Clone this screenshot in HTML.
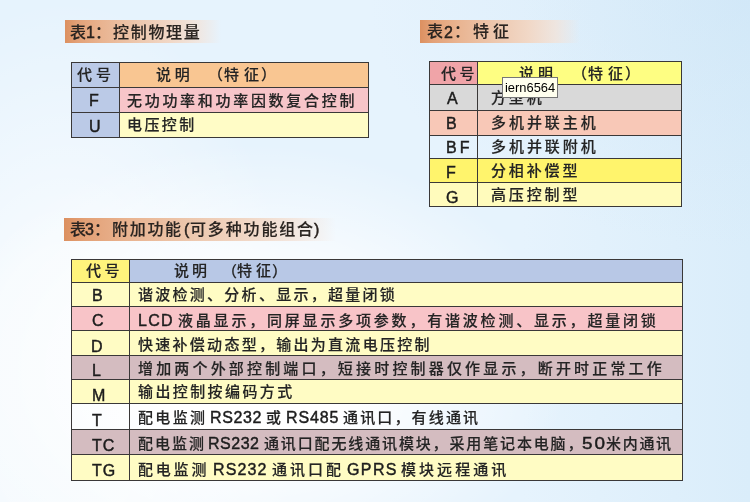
<!DOCTYPE html>
<html lang="zh-CN"><head><meta charset="utf-8"><title>表1 表2 表3</title>
<style>
html,body{margin:0;padding:0}
body{width:750px;height:502px;overflow:hidden;position:relative;font-family:"Liberation Sans","Noto Sans CJK SC",sans-serif;color:#222;background:#e6f3fd}
#bg{position:absolute;left:0;top:0;width:750px;height:502px;
background:
 radial-gradient(ellipse 381px 247px at 750px 0px, rgba(200,226,245,.44) 0%, rgba(200,226,245,0) 100%),
 radial-gradient(ellipse 316px 226px at 252px 370px, rgba(255,255,255,1) 0%, rgba(255,255,255,1) 31%, rgba(255,255,255,0) 100%),
 radial-gradient(ellipse 233px 391px at 67px 390px, rgba(255,255,255,.63) 0%, rgba(255,255,255,.63) 37%, rgba(255,255,255,0) 100%),
 linear-gradient(to right,#e6f3fd 0,#e6f3fd 523px,#daedfa 750px);}
.hd{position:absolute;height:23px;background:linear-gradient(to right,#dc9060 0%,#e3a177 8%,#e9b491 24%,#edc7ad 46%,#f1d8c7 68%,rgba(243,226,215,.75) 85%,rgba(243,230,222,0) 100%)}
.ht{position:absolute;font-weight:500;font-size:16px;letter-spacing:1.7px;line-height:22px;height:22px;white-space:nowrap;color:#2a2420}
.c{position:absolute}
.g{position:absolute;left:0;top:0;font-size:1px;line-height:1px}
.t,.ht,#tip{will-change:transform}
.t,.ht{-webkit-text-stroke:0.15px #242424}
.ln{position:absolute;background:#3a3838}
.t{position:absolute;font-weight:500;font-size:15.0px;white-space:nowrap;line-height:20px;height:20px;color:#242424}
.t.k{font-size:16px;color:#1c1c1c;-webkit-text-stroke:0.45px #1c1c1c}
.t.l{font-size:16.0px;transform:scaleX(1.0);transform-origin:0 50%;color:#1c1c1c;-webkit-text-stroke:0.45px #1c1c1c}
#tip{position:absolute;left:502px;top:77px;width:56px;height:21px;box-sizing:border-box;border:1px solid #767676;background:#ffffee;font-family:"Liberation Sans",sans-serif;font-size:12.9px;line-height:20px;color:#000;padding-left:2px;white-space:nowrap}
</style></head><body><div id="bg"></div>

<div class="hd" style="left:65px;top:20px;width:156px"></div>
<div class="hd" style="left:420px;top:20px;width:160px"></div>
<div class="hd" style="left:64px;top:218px;width:272px"></div>
<div class="g"><span class="ht" style="left:69.60px;top:21.50px;letter-spacing:1.70px">表</span><span class="ht" style="left:85.50px;top:22.00px;letter-spacing:0;-webkit-text-stroke:0.45px #241c18">1</span><span class="ht" style="left:95.10px;top:21.50px;letter-spacing:1.70px">：</span><span class="ht" style="left:112.50px;top:21.50px;letter-spacing:1.70px">控制物理量</span></div>
<div class="g"><span class="ht" style="left:427.40px;top:21.30px;letter-spacing:1.70px">表</span><span class="ht" style="left:443.50px;top:21.80px;letter-spacing:0;-webkit-text-stroke:0.45px #241c18">2</span><span class="ht" style="left:454.00px;top:21.30px;letter-spacing:1.70px">：</span><span class="ht" style="left:472.90px;top:21.30px;letter-spacing:4.00px">特征</span></div>
<div class="g"><span class="ht" style="left:69.80px;top:218.70px;letter-spacing:1.70px">表</span><span class="ht" style="left:85.10px;top:219.20px;letter-spacing:0;-webkit-text-stroke:0.45px #241c18">3</span><span class="ht" style="left:94.00px;top:218.70px;letter-spacing:1.70px">：</span><span class="ht" style="left:112.40px;top:218.70px;letter-spacing:1.70px">附加功能</span><span class="ht" style="left:184.00px;top:219.20px;letter-spacing:0;-webkit-text-stroke:0.45px #241c18">(</span><span class="ht" style="left:190.40px;top:218.70px;letter-spacing:1.85px">可多种功能组合</span><span class="ht" style="left:314.40px;top:219.20px;letter-spacing:0;-webkit-text-stroke:0.45px #241c18">)</span></div>
<div class="c" style="left:71px;top:62px;width:48px;height:76px;background:#bbcae7"></div>
<div class="c" style="left:119px;top:62px;width:249px;height:25px;background:#f9c692"></div>
<div class="c" style="left:119px;top:87px;width:249px;height:25px;background:#f7c5c9"></div>
<div class="c" style="left:119px;top:112px;width:249px;height:26px;background:#fffcc6"></div>
<div class="ln" style="left:71px;top:62px;width:298px;height:1px"></div>
<div class="ln" style="left:71px;top:87px;width:298px;height:1px"></div>
<div class="ln" style="left:71px;top:112px;width:298px;height:1px"></div>
<div class="ln" style="left:71px;top:137px;width:298px;height:1px"></div>
<div class="ln" style="left:71px;top:62px;width:1px;height:76px"></div>
<div class="ln" style="left:119px;top:62px;width:1px;height:76px"></div>
<div class="ln" style="left:368px;top:62px;width:1px;height:76px"></div>
<div class="g"><span class="t" style="left:77.40px;top:64.50px;letter-spacing:4.00px">代号</span></div>
<div class="g"><span class="t" style="left:156.40px;top:64.50px;letter-spacing:3.70px">说明</span> <span class="t" style="left:208.40px;top:65.00px">（</span><span class="t" style="left:224.40px;top:64.50px;letter-spacing:5.00px">特征</span><span class="t" style="left:260.80px;top:65.00px">）</span></div>
<div class="g"><span class="t k" style="left:88.70px;top:91.10px;letter-spacing:0.00px">F</span></div>
<div class="g"><span class="t" style="left:127.00px;top:91.30px;letter-spacing:2.70px">无功功率和功率因数复合控制</span></div>
<div class="g"><span class="t k" style="left:88.70px;top:116.60px;letter-spacing:0.00px">U</span></div>
<div class="g"><span class="t" style="left:127.00px;top:115.00px;letter-spacing:2.40px">电压控制</span></div>
<div class="c" style="left:429px;top:61px;width:48px;height:24px;background:#f0a4a8"></div>
<div class="c" style="left:477px;top:61px;width:204px;height:24px;background:#fefe82"></div>
<div class="c" style="left:429px;top:84px;width:48px;height:27px;background:#d9d9d9"></div>
<div class="c" style="left:477px;top:84px;width:204px;height:27px;background:#d9d9d9"></div>
<div class="c" style="left:429px;top:110px;width:48px;height:26px;background:#f8c8b7"></div>
<div class="c" style="left:477px;top:110px;width:204px;height:26px;background:#f8c8b7"></div>
<div class="c" style="left:429px;top:158px;width:48px;height:25px;background:#fff46c"></div>
<div class="c" style="left:477px;top:158px;width:204px;height:25px;background:#fff46c"></div>
<div class="c" style="left:429px;top:182px;width:48px;height:25px;background:#fffbbc"></div>
<div class="c" style="left:477px;top:182px;width:204px;height:25px;background:#fffbbc"></div>
<div class="ln" style="left:429px;top:61px;width:253px;height:1px"></div>
<div class="ln" style="left:429px;top:84px;width:253px;height:1px"></div>
<div class="ln" style="left:429px;top:110px;width:253px;height:1px"></div>
<div class="ln" style="left:429px;top:135px;width:253px;height:1px"></div>
<div class="ln" style="left:429px;top:158px;width:253px;height:1px"></div>
<div class="ln" style="left:429px;top:182px;width:253px;height:1px"></div>
<div class="ln" style="left:429px;top:206px;width:253px;height:1px"></div>
<div class="ln" style="left:429px;top:61px;width:1px;height:146px"></div>
<div class="ln" style="left:477px;top:61px;width:1px;height:146px"></div>
<div class="ln" style="left:681px;top:61px;width:1px;height:146px"></div>
<div class="g"><span class="t" style="left:441.00px;top:63.50px;letter-spacing:3.40px">代号</span></div>
<div class="g"><span class="t" style="left:519.40px;top:63.50px;letter-spacing:4.00px">说明</span> <span class="t" style="left:572.40px;top:64.00px">（</span><span class="t" style="left:588.40px;top:63.50px;letter-spacing:5.00px">特征</span><span class="t" style="left:624.80px;top:64.00px">）</span></div>
<div class="g"><span class="t k" style="left:446.50px;top:88.95px;letter-spacing:0.00px">A</span></div>
<div class="g"><span class="t" style="left:491.40px;top:87.65px;letter-spacing:2.85px">方型机</span></div>
<div class="g"><span class="t k" style="left:446.30px;top:113.85px;letter-spacing:0.00px">B</span></div>
<div class="g"><span class="t" style="left:491.40px;top:112.55px;letter-spacing:2.95px">多机并联主机</span></div>
<div class="g"><span class="t k" style="left:445.90px;top:138.20px;letter-spacing:3.05px">BF</span></div>
<div class="g"><span class="t" style="left:491.40px;top:136.90px;letter-spacing:2.95px">多机并联附机</span></div>
<div class="g"><span class="t k" style="left:445.80px;top:162.70px;letter-spacing:0.00px">F</span></div>
<div class="g"><span class="t" style="left:491.40px;top:161.40px;letter-spacing:2.85px">分相补偿型</span></div>
<div class="g"><span class="t k" style="left:446.20px;top:188.00px;letter-spacing:0.00px">G</span></div>
<div class="g"><span class="t" style="left:491.40px;top:185.20px;letter-spacing:2.85px">高压控制型</span></div>
<div class="c" style="left:71px;top:259px;width:58px;height:24px;background:#fff47c"></div>
<div class="c" style="left:129px;top:259px;width:553px;height:24px;background:#b8c8e6"></div>
<div class="c" style="left:71px;top:282px;width:58px;height:25px;background:#fffcc4"></div>
<div class="c" style="left:129px;top:282px;width:553px;height:25px;background:#fffcc4"></div>
<div class="c" style="left:71px;top:306px;width:58px;height:25px;background:#f8c4c8"></div>
<div class="c" style="left:129px;top:306px;width:553px;height:25px;background:#f8c4c8"></div>
<div class="c" style="left:71px;top:330px;width:58px;height:26px;background:#fffcc4"></div>
<div class="c" style="left:129px;top:330px;width:553px;height:26px;background:#fffcc4"></div>
<div class="c" style="left:71px;top:355px;width:58px;height:25px;background:#d4bcc0"></div>
<div class="c" style="left:129px;top:355px;width:553px;height:25px;background:#d4bcc0"></div>
<div class="c" style="left:71px;top:379px;width:58px;height:25px;background:#fffcc4"></div>
<div class="c" style="left:129px;top:379px;width:553px;height:25px;background:#fffcc4"></div>
<div class="c" style="left:71px;top:429px;width:58px;height:26px;background:#d4bcc0"></div>
<div class="c" style="left:129px;top:429px;width:553px;height:26px;background:#d4bcc0"></div>
<div class="c" style="left:71px;top:454px;width:58px;height:27px;background:#fffcc4"></div>
<div class="c" style="left:129px;top:454px;width:553px;height:27px;background:#fffcc4"></div>
<div class="ln" style="left:71px;top:259px;width:612px;height:1px"></div>
<div class="ln" style="left:71px;top:282px;width:612px;height:1px"></div>
<div class="ln" style="left:71px;top:306px;width:612px;height:1px"></div>
<div class="ln" style="left:71px;top:330px;width:612px;height:1px"></div>
<div class="ln" style="left:71px;top:355px;width:612px;height:1px"></div>
<div class="ln" style="left:71px;top:379px;width:612px;height:1px"></div>
<div class="ln" style="left:71px;top:403px;width:612px;height:1px"></div>
<div class="ln" style="left:71px;top:429px;width:612px;height:1px"></div>
<div class="ln" style="left:71px;top:454px;width:612px;height:1px"></div>
<div class="ln" style="left:71px;top:480px;width:612px;height:1px"></div>
<div class="ln" style="left:71px;top:259px;width:1px;height:222px"></div>
<div class="ln" style="left:129px;top:259px;width:1px;height:222px"></div>
<div class="ln" style="left:682px;top:259px;width:1px;height:222px"></div>
<div class="g"><span class="t" style="left:86.40px;top:261.00px;letter-spacing:3.40px">代号</span></div>
<div class="g"><span class="t" style="left:174.40px;top:261.00px;letter-spacing:3.00px">说明</span> <span class="t" style="left:222.40px;top:261.50px">（</span><span class="t" style="left:237.40px;top:261.00px;letter-spacing:4.00px">特征</span><span class="t" style="left:271.80px;top:261.50px">）</span></div>
<div class="g"><span class="t k" style="left:91.50px;top:285.60px;letter-spacing:0.00px">B</span></div>
<div class="g"><span class="t" style="left:138.40px;top:284.50px;letter-spacing:2.27px">谐波检测、分析、显示，超量闭锁</span></div>
<div class="g"><span class="t k" style="left:91.90px;top:311.20px;letter-spacing:0.00px">C</span></div>
<div class="g"><span class="t l" style="left:138.00px;top:311.30px;letter-spacing:1.25px">LCD</span> <span class="t" style="left:178.40px;top:310.50px;letter-spacing:2.80px">液晶显示，同屏显示多项参数，有谐波检测、显示，超量闭锁</span></div>
<div class="g"><span class="t k" style="left:91.40px;top:336.50px;letter-spacing:0.00px">D</span></div>
<div class="g"><span class="t" style="left:138.40px;top:334.50px;letter-spacing:2.28px">快速补偿动态型，输出为直流电压控制</span></div>
<div class="g"><span class="t k" style="left:91.50px;top:361.30px;letter-spacing:0.00px">L</span></div>
<div class="g"><span class="t" style="left:138.40px;top:358.50px;letter-spacing:3.17px">增加两个外部控制端口，短接时控制器仅作显示，断开时正常工作</span></div>
<div class="g"><span class="t k" style="left:91.50px;top:386.40px;letter-spacing:0.00px">M</span></div>
<div class="g"><span class="t" style="left:138.40px;top:382.00px;letter-spacing:2.40px">输出控制按编码方式</span></div>
<div class="g"><span class="t k" style="left:91.90px;top:411.40px;letter-spacing:0.00px">T</span></div>
<div class="g"><span class="t" style="left:138.40px;top:408.00px;letter-spacing:2.33px">配电监测</span> <span class="t l" style="left:210.00px;top:407.80px;letter-spacing:0.65px">RS232</span> <span class="t" style="left:266.40px;top:408.00px;letter-spacing:2.40px">或</span> <span class="t l" style="left:286.00px;top:407.80px;letter-spacing:0.90px">RS485</span> <span class="t" style="left:343.40px;top:408.00px;letter-spacing:2.15px">通讯口，有线通讯</span></div>
<div class="g"><span class="t k" style="left:91.90px;top:436.30px;letter-spacing:0.97px">TC</span></div>
<div class="g"><span class="t" style="left:138.40px;top:434.00px;letter-spacing:2.00px">配电监测</span> <span class="t l" style="left:208.00px;top:433.80px;letter-spacing:0.52px">RS232</span> <span class="t" style="left:263.80px;top:434.00px;letter-spacing:1.86px">通讯口配无线通讯模块，采用笔记本电脑，</span><span class="t l" style="left:581.82px;top:433.80px;letter-spacing:1.70px;transform:scaleX(1.18)">50</span> <span class="t" style="left:606.40px;top:434.00px;letter-spacing:1.70px">米内通讯</span></div>
<div class="g"><span class="t k" style="left:91.90px;top:460.90px;letter-spacing:0.88px">TG</span></div>
<div class="g"><span class="t" style="left:138.40px;top:460.00px;letter-spacing:2.80px">配电监测</span> <span class="t l" style="left:213.00px;top:459.80px;letter-spacing:1.15px">RS232</span> <span class="t" style="left:272.40px;top:460.00px;letter-spacing:3.00px">通讯口配</span> <span class="t l" style="left:347.00px;top:460.30px;letter-spacing:1.39px">GPRS</span> <span class="t" style="left:401.40px;top:460.00px;letter-spacing:3.05px">模块远程通讯</span></div>
<div id="tip">iern6564</div>
</body></html>
